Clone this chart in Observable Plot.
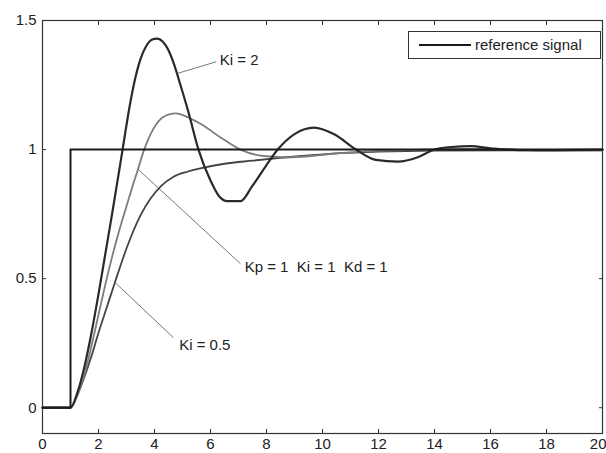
<!DOCTYPE html>
<html><head><meta charset="utf-8">
<script src="https://cdn.jsdelivr.net/npm/d3@7"></script>
<script src="https://cdn.jsdelivr.net/npm/@observablehq/plot@0.6"></script>
<style>
body{margin:0;background:#fff;}
#wrap{position:relative;width:606px;height:453px;overflow:hidden;font-family:"Liberation Sans",Arial,sans-serif;}
#legend{position:absolute;left:408px;top:31px;width:193px;height:28px;border:1px solid #333;background:#fff;box-sizing:border-box;}
#legend svg{position:absolute;left:0;top:0;}
#legend span{position:absolute;left:66px;top:4px;font-size:15px;color:#222;white-space:nowrap;}
</style></head><body>
<div id="wrap"></div>
<script>
// x ticks / y ticks
const xTicks = [0, 2, 4, 6, 8, 10, 12, 14, 16, 18, 20];
const yTicks = [0, 0.5, 1, 1.5];

// reference signal (unit step at t = 1)
const refT = [0, 1, 1, 20];
const refY = [0, 0, 1, 1];

// Ki = 2
const ki2T = [0, 1, 1.25, 1.5, 1.75, 2, 2.25, 2.5, 2.86, 3.1, 3.3, 3.5, 3.7, 3.9, 4.1, 4.3, 4.5, 4.7, 4.9, 5.2, 5.57, 6, 6.3, 6.6, 7.07, 7.5, 8, 8.4, 9, 9.7, 10.4, 11.2, 11.9, 12.7, 13.4, 14, 14.6, 15.3, 16, 17, 18, 20];
const ki2Y = [0, 0, 0.06, 0.16, 0.29, 0.44, 0.6, 0.76, 1.0, 1.16, 1.27, 1.35, 1.40, 1.425, 1.43, 1.418, 1.385, 1.33, 1.26, 1.15, 1.0, 0.88, 0.82, 0.80, 0.80, 0.86, 0.94, 1.0, 1.06, 1.085, 1.06, 1.0, 0.96, 0.953, 0.97, 1.0, 1.01, 1.013, 1.005, 0.998, 0.998, 1.0];

// Kp = 1 Ki = 1 Kd = 1
const k1T = [0, 1, 1.25, 1.5, 1.75, 2, 2.25, 2.5, 2.75, 3, 3.25, 3.4, 3.6, 3.96, 4.3, 4.75, 5.29, 5.64, 6.36, 7.07, 7.9, 8.8, 9.6, 10.5, 11.5, 13, 15, 16, 17, 18, 20];
const k1Y = [0, 0, 0.05, 0.13, 0.24, 0.36, 0.48, 0.59, 0.69, 0.78, 0.87, 0.92, 0.99, 1.08, 1.125, 1.14, 1.12, 1.10, 1.047, 1.0, 0.975, 0.97, 0.975, 0.985, 0.993, 0.998, 1.003, 1.003, 0.999, 0.996, 0.997];

// Ki = 0.5
const ki05T = [0, 1, 1.25, 1.5, 1.75, 2, 2.3, 2.6, 3.08, 3.5, 3.86, 4.25, 4.68, 5.2, 5.64, 6.5, 7.5, 8.4, 9.5, 10.5, 12, 14, 17, 20];
const ki05Y = [0, 0, 0.05, 0.12, 0.2, 0.29, 0.39, 0.49, 0.64, 0.745, 0.81, 0.86, 0.895, 0.915, 0.927, 0.945, 0.957, 0.967, 0.977, 0.985, 0.992, 0.996, 0.997, 0.997];

// annotations: label, curve point (t, y), label anchor (t, y)
const annLabels = ["Ki = 2", "Kp = 1  Ki = 1  Kd = 1", "Ki = 0.5"];
const annCurveT = [4.82, 3.39, 2.6];
const annCurveY = [1.295, 0.926, 0.484];
const annEndT = [6.2, 7.07, 4.68];
const annEndY = [1.34, 0.558, 0.271];
const annTextT = [6.33, 7.22, 4.88];
const annTextY = [1.345, 0.545, 0.243];

const zip = (ts, ys) => ts.map((t, i) => ({t, y: ys[i]}));
const ann = annLabels.map((label, i) => ({
  label, x1: annCurveT[i], y1: annCurveY[i], x2: annEndT[i], y2: annEndY[i], tx: annTextT[i], ty: annTextY[i]
}));

const fmt = d => String(d);
const font = '"Liberation Sans", Arial, sans-serif';
const innerTicks = xTicks.slice(0, -1);
const lastTick = xTicks.slice(-1);

const chart = Plot.plot({
  width: 606,
  height: 453,
  marginLeft: 42,
  marginRight: 4,
  marginTop: 20,
  marginBottom: 20,
  style: {fontFamily: font, fontSize: "15px", color: "#222", background: "#fff"},
  x: {domain: [0, 20]},
  y: {domain: [-0.1, 1.5]},
  marks: [
    Plot.frame({stroke: "#333", strokeWidth: 1.2}),
    Plot.axisX(innerTicks, {anchor: "bottom", tickSize: -4, tickPadding: 9, tickFormat: fmt, label: null, stroke: "#333", fill: "#222", fontSize: 15}),
    Plot.axisX(lastTick, {anchor: "bottom", tickSize: -4, tickPadding: 9, tickFormat: fmt, label: null, stroke: "#333", fill: "#222", fontSize: 15, textAnchor: "end", dx: 4}),
    Plot.axisX(xTicks, {anchor: "top", tickSize: -4, tickFormat: () => "", label: null, stroke: "#333"}),
    Plot.axisY(yTicks, {anchor: "left", tickSize: -4, tickPadding: 10, tickFormat: fmt, label: null, stroke: "#333", fill: "#222", fontSize: 15}),
    Plot.axisY(yTicks, {anchor: "right", tickSize: -4, tickFormat: () => "", label: null, stroke: "#333"}),
    Plot.link(ann, {x1: "x1", y1: "y1", x2: "x2", y2: "y2", stroke: "#777", strokeWidth: 1}),
    Plot.text(ann, {x: "tx", y: "ty", text: "label", textAnchor: "start", fontSize: 15, fill: "#222", fontFamily: font}),
    Plot.line(zip(ki05T, ki05Y), {x: "t", y: "y", stroke: "#444", strokeWidth: 1.8, curve: "monotone-x"}),
    Plot.line(zip(k1T, k1Y), {x: "t", y: "y", stroke: "#7c7c7c", strokeWidth: 1.8, curve: "monotone-x"}),
    Plot.line(zip(ki2T, ki2Y), {x: "t", y: "y", stroke: "#2a2a2a", strokeWidth: 2.2, curve: "monotone-x"}),
    Plot.line(zip(refT, refY), {x: "t", y: "y", stroke: "#1a1a1a", strokeWidth: 2})
  ]
});

const wrap = document.getElementById("wrap");
wrap.appendChild(chart);
const legend = document.createElement("div");
legend.id = "legend";
legend.innerHTML = '<svg width="70" height="26"><line x1="10" y1="13" x2="62" y2="13" stroke="#1a1a1a" stroke-width="2"/></svg><span>reference signal</span>';
wrap.appendChild(legend);
</script>
</body></html>
